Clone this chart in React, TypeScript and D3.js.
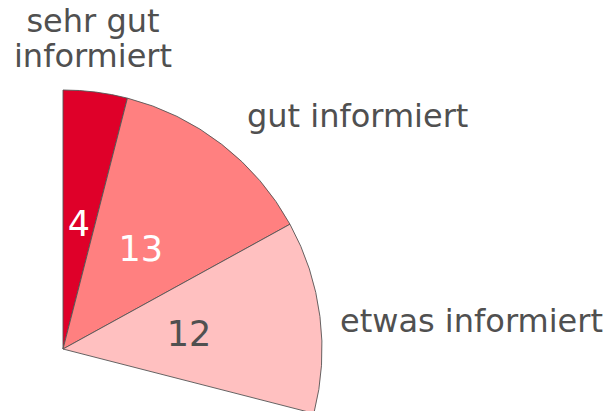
import React from 'react';
import * as d3 from 'd3';

const categories = ['sehr gut informiert', 'gut informiert', 'etwas informiert', 'rest'];
const values = [4, 13, 12, 71];
const colors = ['#df0029', '#ff8080', '#ffc0c0', 'none'];
const valueColors = ['#ffffff', '#ffffff', '#505050', 'none'];

const W = 608, H = 411;
const cx = 63, cy = 349, R = 259;

export default function App() {
  const pie = d3.pie<number>().sort(null).startAngle(0).endAngle(2 * Math.PI);
  const arcs = pie(values);
  const arc = d3.arc<d3.PieArcDatum<number>>().innerRadius(0).outerRadius(R);
  const labelArc = d3.arc<d3.PieArcDatum<number>>().innerRadius(R * 0.98).outerRadius(R * 0.98);

  const font = 'Verdana, "DejaVu Sans", sans-serif';
  return (
    <svg width={W} height={H} style={{ position: 'absolute', left: 0, top: 0 }} fontFamily={font}>
      <g transform={`translate(${cx},${cy})`}>
        {arcs.slice(0, 3).map((a, i) => (
          <path key={i} d={arc(a) || ''} fill={colors[i]} stroke="#555" strokeWidth={0.9} />
        ))}
        {arcs.slice(0, 3).map((a, i) => {
          const [x, y] = labelArc.centroid(a).map(v => v / 2) as [number, number];
          return (
            <text key={'v' + i} x={x} y={y} dy="0.36em" textAnchor="middle"
              fontSize={35} fill={valueColors[i]}>{values[i]}</text>
          );
        })}
      </g>
      <g fill="#505050" fontSize={32}>
        <text x={93} y={32} textAnchor="middle">sehr gut</text>
        <text x={93} y={67} textAnchor="middle">informiert</text>
        <text x={247} y={127}>{categories[1]}</text>
        <text x={340} y={332}>{categories[2]}</text>
      </g>
    </svg>
  );
}
